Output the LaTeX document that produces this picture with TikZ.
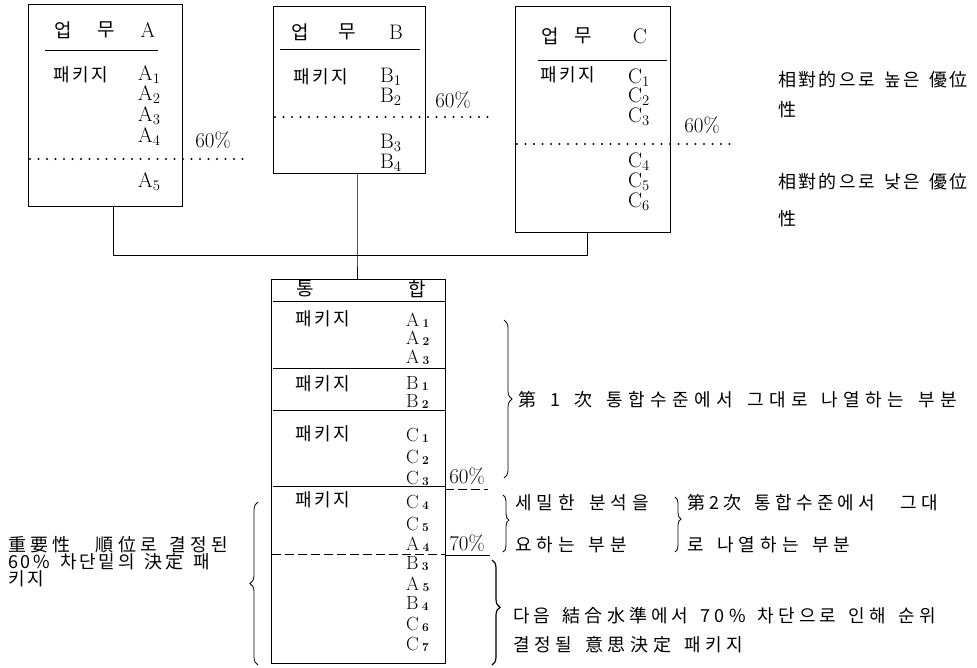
\documentclass[tikz,border=0pt]{standalone}
\usepackage{fontspec}
\newfontfamily\kr[WordSpace=1.5]{Noto Sans CJK KR}
\usetikzlibrary{decorations.pathreplacing}
\newcommand{\ksz}[3]{{\kr\fontsize{#1}{#1}\selectfont\addfontfeature{LetterSpace=#2}#3}}
\newcommand{\ks}[2]{\ksz{18}{#1}{#2}}
\newcommand{\ti}[2]{#1\,\raisebox{-1pt}{\fontsize{12}{12}\selectfont\bfseries #2}}
\tikzset{
  frame/.style={draw, line width=1pt, inner sep=0pt},
  lab/.style={inner sep=0pt, anchor=west, font=\fontsize{21}{21}\selectfont},
  tlab/.style={inner sep=0pt, anchor=west, font=\fontsize{19}{19}\selectfont},
  pct/.style={inner sep=0pt, font=\fontsize{21}{21}\selectfont},
  kt/.style={inner sep=0pt},
  kw/.style={inner sep=0pt, anchor=west},
  dotline/.style={line width=2.2pt, line cap=round, dash pattern=on 0pt off 8.5pt},
  thinline/.style={line width=0.6pt},
  dashline/.style={line width=0.7pt, dash pattern=on 9pt off 4pt},
  conn/.style={line width=1pt},
  br/.style={decorate, line width=0.8pt, decoration={brace, amplitude=#1}},
  br/.default=7pt
}
\begin{document}
\begin{tikzpicture}[x=1pt, y=-1pt]
\useasboundingbox (0,0) rectangle (977,667);

% ---------- boxes ----------
\node[frame, minimum width=154pt, minimum height=202pt] (boxA) at (105,105) {};
\node[frame, minimum width=152pt, minimum height=167pt] (boxB) at (349,89.5) {};
\node[frame, minimum width=155pt, minimum height=226pt] (boxC) at (592.5,119) {};
\node[frame, minimum width=174pt, minimum height=384pt] (boxT) at (358,471) {};

% ---------- connectors ----------
\coordinate (ja) at (113,255);
\coordinate (jb) at (357,255);
\coordinate (jc) at (587,255);
\draw[conn] (boxA.south -| ja) -- (ja) -- (jc) -- (boxC.south -| jc);
\draw[conn] (boxB.south -| jb) -- (jb) -- (boxT.north -| jb);

% ---------- box A ----------
\node[kt] (aH1) at (63,30) {\ksz{19}{0}{업}};
\node[kt] (aH2) at (106,30) {\ksz{19}{0}{무}};
\node[kt, font=\fontsize{21}{21}\selectfont] (aH3) at (148,30) {A};
\draw[thinline] (45,50) -- (158,50);
\node[kw] (aP) at (53,75) {\ks{15}{패키지}};
\node[lab] (a1) at (138,75) {A\textsubscript{1}};
\node[lab] (a2) at (138,95) {A\textsubscript{2}};
\node[lab] (a3) at (138,116) {A\textsubscript{3}};
\node[lab] (a4) at (138,137) {A\textsubscript{4}};
\node[lab] (a5) at (138,182) {A\textsubscript{5}};
\node[pct] (aPct) at (213,140) {60\%};
\draw[dotline] (30,159) -- (247,159);

% ---------- box B ----------
\node[kt] (bH1) at (300,32) {\ksz{19}{0}{업}};
\node[kt] (bH2) at (347,32) {\ksz{19}{0}{무}};
\node[kt, font=\fontsize{21}{21}\selectfont] (bH3) at (396,32) {B};
\draw[thinline] (280,49) -- (420,49);
\node[kw] (bP) at (293,77) {\ks{15}{패키지}};
\node[lab] (b1) at (380,77) {B\textsubscript{1}};
\node[lab] (b2) at (380,97) {B\textsubscript{2}};
\node[lab] (b3) at (380,143) {B\textsubscript{3}};
\node[lab] (b4) at (380,163) {B\textsubscript{4}};
\node[pct] (bPct) at (453,100) {60\%};
\draw[dotline] (275,117) -- (492,117);

% ---------- box C ----------
\node[kt] (cH1) at (550,36) {\ksz{19}{0}{업}};
\node[kt] (cH2) at (583,36) {\ksz{19}{0}{무}};
\node[kt, font=\fontsize{21}{21}\selectfont] (cH3) at (640,36) {C};
\draw[thinline] (538,60) -- (667,60);
\node[kw] (cP) at (540,75) {\ks{15}{패키지}};
\node[lab] (c1) at (628,78) {C\textsubscript{1}};
\node[lab] (c2) at (628,97) {C\textsubscript{2}};
\node[lab] (c3) at (628,117) {C\textsubscript{3}};
\node[lab] (c4) at (628,162) {C\textsubscript{4}};
\node[lab] (c5) at (628,182) {C\textsubscript{5}};
\node[lab] (c6) at (628,202) {C\textsubscript{6}};
\node[pct] (cPct) at (702,125) {60\%};
\draw[dotline] (517,144) -- (733,144);

% ---------- right texts (top) ----------
\node[kw] (hi1) at (778,80) {\ks{13}{相對的으로 높은 優位}};
\node[kw] (hi2) at (778,110) {\ks{13}{性}};
\node[kw] (lo1) at (778,182) {\ks{13}{相對的으로 낮은 優位}};
\node[kw] (lo2) at (778,219) {\ks{13}{性}};

% ---------- integrated box ----------
\node[kt] (tH1) at (305,289) {\ksz{19}{0}{통}};
\node[kt] (tH2) at (417,289) {\ksz{19}{0}{합}};
\draw[thinline] (273,301) -- (445,301);
\node[kw] (tP1) at (295,319) {\ks{15}{패키지}};
\node[tlab] (t1) at (406,320) {\ti{A}{1}};
\node[tlab] (t2) at (406,338) {\ti{A}{2}};
\node[tlab] (t3) at (406,357) {\ti{A}{3}};
\draw[thinline] (273,368) -- (445,368);
\node[kw] (tP2) at (295,384) {\ks{15}{패키지}};
\node[tlab] (t4) at (406,384) {\ti{B}{1}};
\node[tlab] (t5) at (406,402) {\ti{B}{2}};
\draw[thinline] (273,410) -- (445,410);
\node[kw] (tP3) at (295,434) {\ks{15}{패키지}};
\node[tlab] (t6) at (406,435) {\ti{C}{1}};
\node[tlab] (t7) at (406,457) {\ti{C}{2}};
\node[tlab] (t8) at (406,478) {\ti{C}{3}};
\draw[thinline] (273,486) -- (445,486);
\draw[dashline] (445,489) -- (488,489);
\node[pct] (tPct1) at (467,476) {60\%};
\node[kw] (tP4) at (295,500) {\ks{15}{패키지}};
\node[tlab] (t9) at (406,502) {\ti{C}{4}};
\node[tlab] (t10) at (406,524) {\ti{C}{5}};
\node[tlab] (t11) at (406,544) {\ti{A}{4}};
\draw[dashline] (272,554) -- (445,554);
\draw[thinline] (445,555) -- (490,555);
\node[pct] (tPct2) at (467,543) {70\%};
\node[tlab] (t12) at (406,564) {\ti{B}{3}};
\node[tlab] (t13) at (406,584) {\ti{A}{5}};
\node[tlab] (t14) at (406,604) {\ti{B}{4}};
\node[tlab] (t15) at (406,624) {\ti{C}{6}};
\node[tlab] (t16) at (406,644) {\ti{C}{7}};

% ---------- braces and notes ----------
\draw[br=8pt] (504,320) -- (504,478);
\node[kw] (n1) at (518,400) {\ks{30}{第 1 次 통합수준에서 그대로 나열하는 부분}};

\draw[br=6pt, decoration={aspect=0.44}] (503,495) -- (503,552);
\node[kw] (n2) at (515,503) {\ks{29}{세밀한 분석을}};
\node[kw] (n3) at (515,545) {\ks{28}{요하는 부분}};

\draw[br=6pt, decoration={aspect=0.4}] (675,497) -- (675,552);
\node[kw] (n4) at (687,503) {\ks{24}{第2次 통합수준에서\ \ 그대}};
\node[kw] (n5) at (687,545) {\ks{28}{로 나열하는 부분}};

\draw[br=8pt, line width=1.2pt, decoration={aspect=0.45}] (492,560) -- (492,665);
\node[kw] (n6) at (513,616) {\ks{23}{다음 結合水準에서 70\% 차단으로 인해 순위}};
\node[kw] (n7) at (513,645) {\ks{26}{결정될 意思決定 패키지}};

\draw[br=8pt, decoration={aspect=0.5}] (258,665) -- (258,502);
\node[kw] (l1) at (8,545) {\ks{24}{重要性\ \ 順位로 결정된}};
\node[kw] (l2) at (8,562) {\ks{15}{60\% 차단밑의 決定 패}};
\node[kw] (l3) at (8,579) {\ks{15}{키지}};
\end{tikzpicture}
\end{document}
